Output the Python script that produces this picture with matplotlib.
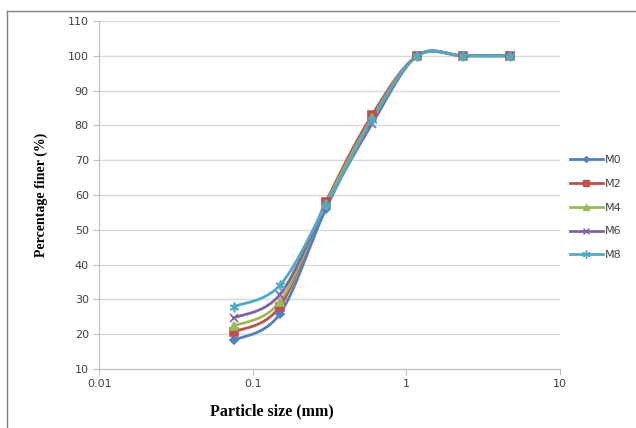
import numpy as np
import matplotlib
matplotlib.use("Agg")
import matplotlib.pyplot as plt
from matplotlib.lines import Line2D

# sieve sizes (mm) and percentage finer for each mix
sizes = [0.075, 0.15, 0.3, 0.6, 1.18, 2.36, 4.75]
m0 = [18.2, 25.8, 56.0, 82.0, 100, 100, 100]
m2 = [20.6, 27.9, 58.0, 83.0, 100, 100, 100]
m4 = [22.3, 29.3, 57.5, 82.0, 100, 100, 100]
m6 = [24.6, 31.3, 57.0, 80.5, 100, 100, 100]
m8 = [27.9, 34.0, 57.0, 81.5, 100, 100, 100]
names = ["M0", "M2", "M4", "M6", "M8"]

colors = ["#4F81BD", "#C0504D", "#9BBB59", "#8064A2", "#4BACC6"]
markers = ["D", "s", "^", "x", (6, 2, 0)]
msizes = [4, 6, 6, 6, 7]


def smooth(xs, ys, n=30):
    # catmull-rom through the points, in log-x space (like excel smoothed lines)
    lx = np.log10(xs)
    ys = np.asarray(ys, float)
    P = np.column_stack([lx, ys])
    P = np.vstack([P[0], P, P[-1]])
    out = []
    for i in range(1, len(P) - 2):
        p0, p1, p2, p3 = P[i - 1], P[i], P[i + 1], P[i + 2]
        t = np.linspace(0, 1, n)[:, None]
        pts = 0.5 * ((2 * p1) + (-p0 + p2) * t + (2 * p0 - 5 * p1 + 4 * p2 - p3) * t ** 2
                     + (-p0 + 3 * p1 - 3 * p2 + p3) * t ** 3)
        out.append(pts)
    out = np.vstack(out)
    return 10 ** out[:, 0], out[:, 1]


fig = plt.figure(figsize=(6.36, 4.28), dpi=100)
ax = fig.add_axes([0.156, 0.138, 0.724, 0.813])

series = [m0, m2, m4, m6, m8]
handles = []
for ys, nm, c, mk, ms in zip(series, names, colors, markers, msizes):
    sx, sy = smooth(sizes, ys)
    ax.plot(sx, sy, color=c, lw=2.0, zorder=3)
    ax.plot(sizes, ys, ls="none", marker=mk, color=c, ms=ms, mew=1.2, zorder=4)
    handles.append(Line2D([], [], color=c, lw=2, marker=mk, ms=ms - 1, mew=1.0))

ax.set_xscale("log")
ax.set_xlim(0.01, 10)
ax.set_ylim(10, 110)
ax.set_yticks(range(10, 111, 10))
ax.set_xticks([0.01, 0.1, 1, 10])
ax.set_xticklabels(["0.01", "0.1", "1", "10"])
ax.minorticks_off()
ax.yaxis.grid(True, color="#d9d9d9", lw=1)
ax.set_axisbelow(True)

for s in ["top", "right"]:
    ax.spines[s].set_visible(False)
for s in ["left", "bottom"]:
    ax.spines[s].set_color("#bfbfbf")
ax.tick_params(colors="#bfbfbf", labelcolor="#404040", labelsize=8, length=4)

fig.text(272 / 636, 1 - 411 / 428, "Particle size (mm)", family="Liberation Serif", weight="bold",
         fontsize=11.5, ha="center", va="center")
ax.set_ylabel("Percentage finer (%)", family="Liberation Serif", weight="bold", fontsize=10, labelpad=14)

fig.legend(handles, names, loc="center left", bbox_to_anchor=(0.88, 0.515), frameon=False,
           fontsize=8, handlelength=3, labelspacing=1.25, handletextpad=0.2,
           labelcolor="#404040")

# chart border (left and top visible in the reference)
fig.add_artist(Line2D([7 / 636, 7 / 636], [0, 1 - 11 / 428], color="#808080", lw=1))
fig.add_artist(Line2D([7 / 636, 1], [1 - 11 / 428, 1 - 11 / 428], color="#808080", lw=1))

fig.savefig("out.png", dpi=100)
